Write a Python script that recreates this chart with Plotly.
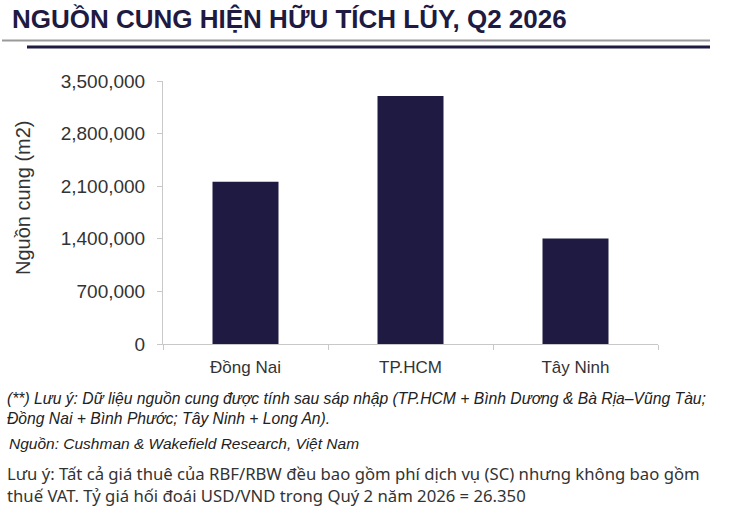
import plotly.graph_objects as go

categories = ["Đồng Nai", "TP.HCM", "Tây Ninh"]
supply = [2160000, 3300000, 1405000]
tick_vals = [0, 700000, 1400000, 2100000, 2800000, 3500000]
tick_text = ["0", "700,000", "1,400,000", "2,100,000", "2,800,000", "3,500,000"]

title_text = "NGUỒN CUNG HIỆN HỮU TÍCH LŨY, Q2 2026"
y_title = "Nguồn cung (m2)"
note1 = "(**) Lưu ý: Dữ liệu nguồn cung được tính sau sáp nhập (TP.HCM + Bình Dương & Bà Rịa–Vũng Tàu;<br>Đồng Nai + Bình Phước; Tây Ninh + Long An)."
source = "Nguồn: Cushman & Wakefield Research, Việt Nam"
note2 = "Lưu ý: Tất cả giá thuê của RBF/RBW đều bao gồm phí dịch vụ (SC) nhưng không bao gồm<br>thuế VAT. Tỷ giá hối đoái USD/VND trong Quý 2 năm 2026 = 26.350"

W, H = 729, 518
# target pixel positions in the window
PL, PR, PT, PB = 163, 658, 81, 344
L, T = PL, PT
R, B = W - PR, H - PB
PW, PH = PR - PL, PB - PT

def px(x):
    return (x - PL) / PW

def py(y):
    return (PB - y) / PH

NAVY = "#1e1a42"

fig = go.Figure(go.Bar(x=categories, y=supply, marker=dict(color=NAVY, line=dict(width=0)), width=0.4))

fig.update_layout(
    width=W, height=H,
    margin=dict(l=L, r=R, t=T, b=B),
    paper_bgcolor="white", plot_bgcolor="white",
    showlegend=False,
    font=dict(family="Liberation Sans, Arial, sans-serif", color="#333333"),
    xaxis=dict(showline=True, linecolor="#c8c8c8", linewidth=1, ticks="outside", tickson="boundaries",
               ticklen=5, tickcolor="#c8c8c8", tickfont=dict(size=17, color="#333333"), showgrid=False,
               ticklabelstandoff=8),
    yaxis=dict(range=[0, 3500000], tickvals=tick_vals, ticktext=tick_text, showline=True,
               linecolor="#c8c8c8", linewidth=1, ticks="outside", ticklen=5, tickcolor="#c8c8c8",
               tickfont=dict(size=19, color="#333333"), showgrid=False, zeroline=False,
               ticklabelstandoff=8),
)

shapes = [
    dict(type="line", xref="paper", yref="paper", x0=px(2), x1=px(710), y0=py(40.5), y1=py(40.5),
         line=dict(color="#9a9a9a", width=2)),
    dict(type="line", xref="paper", yref="paper", x0=px(27), x1=px(710), y0=py(47), y1=py(47),
         line=dict(color=NAVY, width=3)),
]
fig.update_layout(shapes=shapes)

ann = [
    dict(text="<b>" + title_text + "</b>", x=px(10), y=py(19), xanchor="left", yanchor="middle",
         font=dict(family="Liberation Sans Narrow, Liberation Sans, Arial", size=26, color=NAVY)),
    dict(text=y_title, x=px(23), y=py(198), xanchor="center", yanchor="middle", textangle=-90,
         font=dict(size=20, color="#333333")),
    dict(text="<i>" + note1 + "</i>", x=px(5), y=py(388), xanchor="left", yanchor="top", align="left",
         font=dict(size=15.7, color="#222222")),
    dict(text="<i>" + source + "</i>", x=px(7), y=py(433), xanchor="left", yanchor="top", align="left",
         font=dict(size=15.5, color="#222222")),
    dict(text=note2, x=px(5), y=py(460), xanchor="left", yanchor="top", align="left",
         font=dict(family="Noto Sans, Open Sans, sans-serif", size=16.7, color="#333333")),
]
for a in ann:
    a.update(xref="paper", yref="paper", showarrow=False)
fig.update_layout(annotations=ann)

fig.write_html("out.html", config={"displayModeBar": False},
               post_script="document.body.style.margin='0';document.body.style.padding='0';")
